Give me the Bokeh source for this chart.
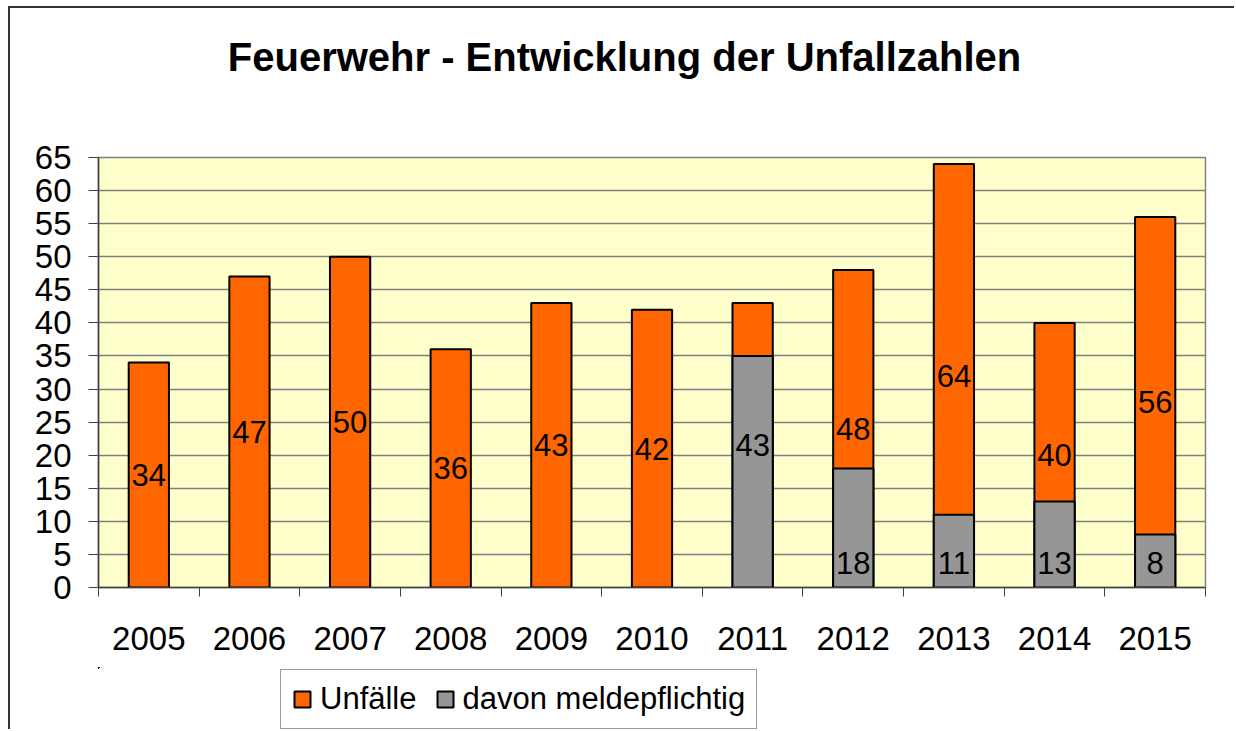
from bokeh.plotting import figure
from bokeh.layouts import column
from bokeh.models import (ColumnDataSource, Range1d, FixedTicker, Legend, LegendItem, Label)
from bokeh.core.properties import value
from bokeh.embed import file_html
from bokeh.resources import INLINE

nan = float("nan")

# ---- data ----
years = ["2005", "2006", "2007", "2008", "2009", "2010", "2011", "2012", "2013", "2014", "2015"]
unfaelle = [34, 47, 50, 36, 43, 42, 43, 48, 64, 40, 56]
meldepflichtig = [nan, nan, nan, nan, nan, nan, 35, 18, 11, 13, 8]
melde_labels = ["", "", "", "", "", "", "", "18", "11", "13", "8"]
y_ticks = list(range(0, 70, 5))
title_text = "Feuerwehr - Entwicklung der Unfallzahlen"
series_names = ["Unfälle", "davon meldepflichtig"]

FONT = "Liberation Sans"
ORANGE = "#FF6600"
GRAY = "#969696"
W = 1224
FRAME_L, FRAME_R = 98, 1205   # page pixels of plot frame (aligned across column)

def blank(h, x0=FRAME_L, y0=0):
    f = figure(width=W, height=h, output_backend="svg", toolbar_location=None,
               x_range=Range1d(x0, x0 + FRAME_R - FRAME_L), y_range=Range1d(y0, y0 + h),
               x_axis_location=None, y_axis_location=None,
               min_border_left=0, min_border_right=0, min_border_top=0, min_border_bottom=0)
    f.grid.visible = False
    f.outline_line_color = None
    f.background_fill_color = "white"
    f.border_fill_color = "white"
    return f

# ---- title ----
H0 = 104
p0 = blank(H0)
p0.add_layout(Label(x=624, y=H0 - 48, text=title_text, text_align="center", text_baseline="middle",
                    text_font=FONT, text_font_size="40px", text_font_style="bold", text_color="black"))

# ---- main chart ----
xs = [i + 0.5 for i in range(len(years))]
src = ColumnDataSource(dict(
    x=xs,
    unf=unfaelle,
    unf_mid=[v / 2 for v in unfaelle],
    unf_lbl=[str(v) for v in unfaelle],
    mel=meldepflichtig,
    mel_lbl=melde_labels,
    zero=[0] * len(years),
))

p = figure(width=W, height=555, output_backend="svg", toolbar_location=None,
           x_range=Range1d(0, len(years)), y_range=Range1d(0, 65),
           min_border_left=88, min_border_right=29, min_border_top=45, min_border_bottom=80)
p.border_fill_color = "white"
p.background_fill_color = "#FFFFCC"
p.outline_line_color = "#808080"
p.outline_line_width = 1.5

p.xgrid.visible = False
p.ygrid.grid_line_color = "#7f7f7f"
p.ygrid.grid_line_width = 1.5
p.ygrid.ticker = FixedTicker(ticks=y_ticks)

p.vbar(x="x", top="unf", bottom=0, width=0.4, source=src,
       fill_color=ORANGE, line_color="black", line_width=2)
p.vbar(x="x", top="mel", bottom=0, width=0.4, source=src,
       fill_color=GRAY, line_color="black", line_width=2)

p.text(x="x", y="unf_mid", text="unf_lbl", source=src, text_align="center",
       text_baseline="middle", text_font=value(FONT), text_font_size="31px", text_color="black")
p.text(x="x", y="zero", text="mel_lbl", source=src, text_align="center",
       text_baseline="bottom", y_offset=-14, text_font=value(FONT), text_font_size="31px",
       text_color="black")

ya = p.yaxis[0]
ya.ticker = FixedTicker(ticks=y_ticks)
ya.axis_line_color = "#404040"
ya.axis_line_width = 1.5
ya.major_tick_line_color = "#404040"
ya.major_tick_out = 10
ya.major_tick_in = 0
ya.minor_tick_line_color = None
ya.major_label_text_font = FONT
ya.major_label_text_font_size = "33px"
ya.major_label_text_color = "black"
ya.major_label_standoff = 17

xa = p.xaxis[0]
xa.ticker = FixedTicker(ticks=xs, minor_ticks=list(range(len(years) + 1)))
xa.major_label_overrides = {x: y for x, y in zip(xs, years)}
xa.major_tick_line_color = None
xa.major_tick_out = 0
xa.major_tick_in = 0
xa.minor_tick_line_color = "#404040"
xa.minor_tick_out = 9
xa.minor_tick_in = 0
xa.axis_line_color = "#404040"
xa.axis_line_width = 1.5
xa.major_label_text_font = FONT
xa.major_label_text_font_size = "33px"
xa.major_label_text_color = "black"
xa.major_label_standoff = 30

# ---- legend strip (legend renderers share the data; they lie far outside this strip's view) ----
H2 = 62
p2 = blank(H2, x0=10000, y0=-1000)
g1 = p2.vbar(x="x", top="unf", width=0.4, source=src, fill_color=ORANGE, line_color="black", line_width=2)
g2 = p2.vbar(x="x", top="mel", width=0.4, source=src, fill_color=GRAY, line_color="black", line_width=2)
legend = Legend(items=[LegendItem(label=series_names[0], renderers=[g1]),
                       LegendItem(label=series_names[1], renderers=[g2])],
                orientation="horizontal", location=(182, 0),
                label_text_font=FONT, label_text_font_size="31px", label_text_color="black",
                glyph_width=20, glyph_height=20, label_standoff=8, spacing=18,
                padding=11, margin=0, border_line_color="#333333", border_line_width=1.5,
                background_fill_color="white", background_fill_alpha=1.0,
                label_height=30)
p2.add_layout(legend, "center")

layout = column(p0, p, p2, spacing=0)
layout.styles = {"border-left": "2px solid #333333", "border-top": "2px solid #333333",
                 "margin-left": "8px", "margin-top": "6px"}

open("out.html", "w").write(file_html(layout, INLINE))
